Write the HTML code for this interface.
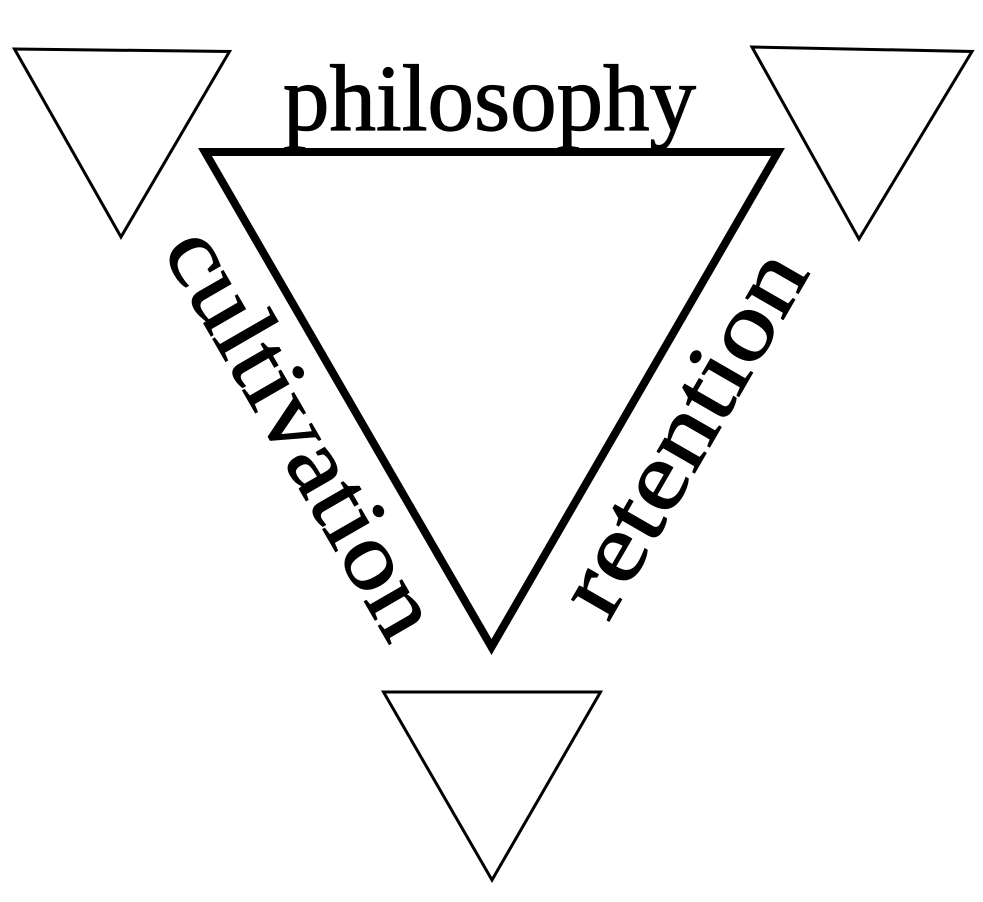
<!DOCTYPE html>
<html>
<head>
<meta charset="utf-8">
<style>
  html, body { margin: 0; padding: 0; background: #ffffff; }
  body { width: 983px; height: 902px; overflow: hidden; }
  svg { display: block; }
  text { font-family: "Liberation Serif", "Times New Roman", Times, serif; fill: #000; }
</style>
</head>
<body>
<svg width="983" height="902" viewBox="0 0 983 902" xmlns="http://www.w3.org/2000/svg">
  <rect x="0" y="0" width="983" height="902" fill="#ffffff"/>

  <!-- small triangles -->
  <polygon points="14.5,49 229.5,51.5 121,237" fill="none" stroke="#000" stroke-width="3" stroke-linejoin="miter"/>
  <polygon points="752,47 972,51.5 859,239" fill="none" stroke="#000" stroke-width="3" stroke-linejoin="miter"/>
  <polygon points="383.5,692 600.5,692 492,880" fill="none" stroke="#000" stroke-width="3" stroke-linejoin="miter"/>

  <!-- main triangle -->
  <polygon points="205,152 778,152 491.5,647" fill="none" stroke="#000" stroke-width="8" stroke-linejoin="miter"/>

  <!-- labels -->
  <text font-family="Liberation Serif, Times New Roman, Times, serif" stroke="#000" stroke-width="1.2" x="283" y="130" font-size="94" textLength="413" lengthAdjust="spacingAndGlyphs">philosophy</text>

  <text font-family="Liberation Serif, Times New Roman, Times, serif" stroke="#000" stroke-width="1.2" transform="translate(161.5,250) rotate(60)" x="0" y="0" font-size="94" textLength="457" lengthAdjust="spacingAndGlyphs">cultivation</text>

  <text font-family="Liberation Serif, Times New Roman, Times, serif" stroke="#000" stroke-width="1.2" transform="translate(608,623) rotate(-60)" x="0" y="0" font-size="94" textLength="405" lengthAdjust="spacingAndGlyphs">retention</text>
</svg>
</body>
</html>
